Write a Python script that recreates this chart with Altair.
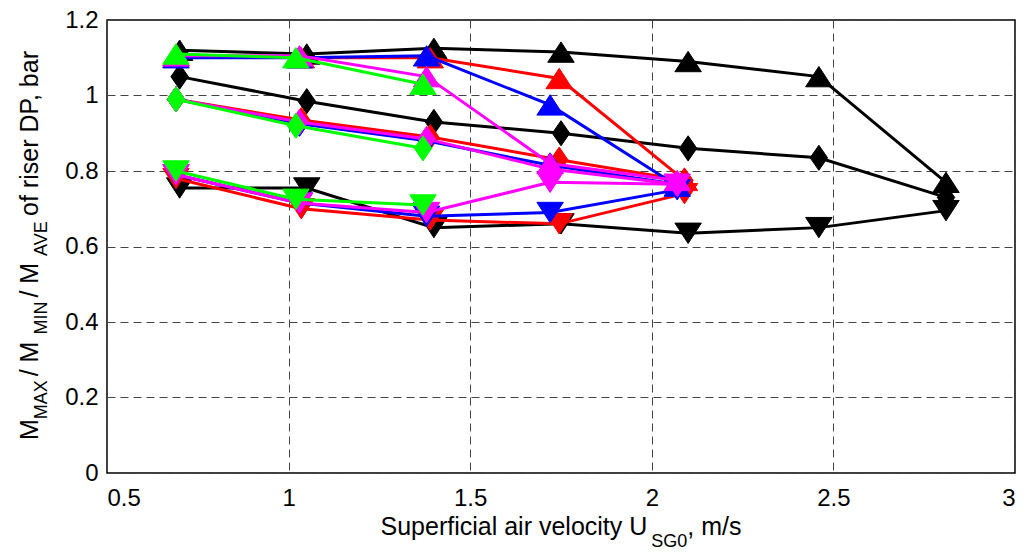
import altair as alt
import pandas as pd

# ---- data ----
black_x = [0.70, 1.05, 1.40, 1.75, 2.10, 2.46, 2.81]
black_up = [1.12, 1.11, 1.125, 1.115, 1.09, 1.05, 0.77]
black_dia = [1.05, 0.985, 0.93, 0.90, 0.86, 0.835, 0.73]
black_down = [0.755, 0.755, 0.65, 0.66, 0.635, 0.65, 0.695]

red_x = [0.69, 1.035, 1.39, 1.745, 2.09]
red_up = [1.105, 1.10, 1.10, 1.045, 0.775]
red_dia = [0.99, 0.935, 0.89, 0.83, 0.775]
red_down = [0.78, 0.70, 0.67, 0.66, 0.74]

blue_x = [0.69, 1.03, 1.38, 1.72, 2.07]
blue_up = [1.10, 1.10, 1.105, 0.975, 0.76]
blue_dia = [0.99, 0.925, 0.88, 0.815, 0.765]
blue_down = [0.79, 0.715, 0.68, 0.69, 0.75]

magenta_x = [0.69, 1.03, 1.38, 1.72, 2.07]
magenta_up = [1.105, 1.105, 1.05, 0.82, 0.775]
magenta_dia = [0.99, 0.93, 0.885, 0.805, 0.765]
magenta_down = [0.79, 0.715, 0.69, 0.77, 0.765]

green_x = [0.69, 1.02, 1.37]
green_up = [1.11, 1.10, 1.03]
green_dia = [0.99, 0.92, 0.86]
green_down = [0.80, 0.725, 0.71]

x_ticks = [0.5, 1, 1.5, 2, 2.5, 3]
y_ticks = [0, 0.2, 0.4, 0.6, 0.8, 1, 1.2]

x_title = [("Superficial air velocity U", False), ("SG0", True), (", m/s", False)]
y_title = [("M", False), ("MAX", True), (" / M", False), ("MIN", True),
           (" / M", False), ("AVE", True), (" of riser DP, bar", False)]

series = [
    ("black", "#000000", black_x, black_up, black_dia, black_down),
    ("red", "#FF0000", red_x, red_up, red_dia, red_down),
    ("blue", "#0000FF", blue_x, blue_up, blue_dia, blue_down),
    ("magenta", "#FF00FF", magenta_x, magenta_up, magenta_dia, magenta_down),
    ("green", "#00FF00", green_x, green_up, green_dia, green_down),
]

rows = []
for name, _, xs, up, dia, down in series:
    for shp, ys in (("up", up), ("dia", dia), ("down", down)):
        for i, (xv, yv) in enumerate(zip(xs, ys)):
            rows.append({"grp": name, "shape": shp, "i": i, "x": xv, "y": yv})
df = pd.DataFrame(rows)

FONT = "Liberation Sans"
W, H = 908, 453
TS, SS = 25, 18  # title and subscript font sizes
SUB_GAP = 4

# Arial / Liberation Sans advance widths (per 1000 em) for layout of titles
AW = {" ": 278, "S": 667, "u": 556, "p": 556, "e": 556, "r": 333, "f": 278, "i": 222,
      "c": 500, "a": 556, "l": 222, "v": 500, "o": 556, "t": 278, "y": 500, "U": 722,
      "G": 778, "0": 556, ",": 278, "m": 833, "/": 278, "s": 500, "M": 833, "A": 667,
      "X": 667, "I": 278, "N": 722, "V": 667, "E": 667, "D": 722, "P": 667, "b": 556}


def tw(text, sub):
    size = SS if sub else TS
    return sum(AW.get(ch, 556) for ch in text) * size / 1000.0


shape_scale = alt.Scale(
    domain=["up", "dia", "down"],
    range=[
        "M0,-0.77L1,0.77L-1,0.77Z",
        "M0,-0.95L0.66,0L0,0.95L-0.66,0Z",
        "M0,0.77L1,-0.77L-1,-0.77Z",
    ],
)

x_enc = alt.X(
    "x:Q",
    scale=alt.Scale(domain=[0.5, 3], nice=False, zero=False),
    axis=alt.Axis(values=x_ticks, format="~g", title=None, labelPadding=13),
)
y_enc = alt.Y(
    "y:Q",
    scale=alt.Scale(domain=[0, 1.2], nice=False),
    axis=alt.Axis(values=y_ticks, format="~g", title=None, labelPadding=9),
)

layers = []
for name, col, *_ in series:
    base = alt.Chart(df).transform_filter(alt.datum.grp == name)
    layers.append(
        base.mark_line(strokeWidth=3, color=col).encode(
            x=x_enc, y=y_enc, detail="shape:N", order="i:Q"
        )
    )
    layers.append(
        base.mark_point(filled=True, opacity=1, color=col, stroke=col, strokeWidth=1, size=700).encode(
            x=x_enc,
            y=y_enc,
            shape=alt.Shape("shape:N", scale=shape_scale, legend=None),
        )
    )


def label(text, px, py, sub, angle=0):
    kw = dict(font=FONT, fontSize=SS if sub else TS, align="left",
              baseline="alphabetic", color="black")
    if angle:
        kw["angle"] = angle
    return alt.Chart(pd.DataFrame({"t": [text.replace(" ", "\u00a0")]})).mark_text(**kw).encode(
        x=alt.value(px), y=alt.value(py), text="t:N"
    )


# x-axis title with subscript (small gap before the subscript), centred under the plot
total = sum(tw(t, s) + (SUB_GAP if s else 0) for t, s in x_title)
pos = W / 2 - total / 2
for t, s in x_title:
    if s:
        pos += SUB_GAP
    layers.append(label(t, pos, 515 + (12 if s else 0), s))
    pos += tw(t, s)

# y-axis title (rotated) with subscripts (small gap after each), centred beside the plot
total = sum(tw(t, s) + (SUB_GAP if s else 0) for t, s in y_title)
pos = H / 2 - 6 + total / 2
for t, s in y_title:
    layers.append(label(t, -69 + (9 if s else 0), pos, s, angle=270))
    pos -= tw(t, s) + (SUB_GAP if s else 0)

chart = (
    alt.layer(*layers)
    .properties(
        width=W,
        height=H,
        autosize=alt.AutoSizeParams(type="none"),
        padding={"left": 99, "top": 12, "right": 5, "bottom": 80},
    )
    .configure_view(stroke="black", strokeWidth=1.5)
    .configure_axis(
        labelFont=FONT,
        labelFontSize=24,
        labelColor="black",
        grid=True,
        gridColor="#444444",
        gridDash=[8, 5],
        gridWidth=1,
        gridOpacity=1,
        domain=False,
        ticks=False,
    )
)

chart.save("out.html", embed_options={"renderer": "svg", "actions": False})
